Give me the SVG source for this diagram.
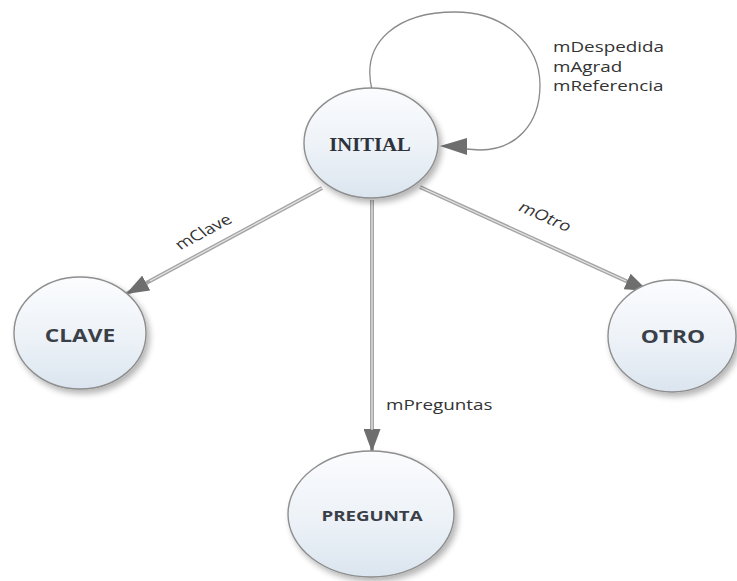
<svg xmlns="http://www.w3.org/2000/svg" width="737" height="581" viewBox="0 0 737 581">
<defs>
<linearGradient id="g" x1="0" y1="0" x2="0" y2="1">
<stop offset="0" stop-color="#fbfcfe"/>
<stop offset="0.5" stop-color="#eef3f8"/>
<stop offset="1" stop-color="#dbe5ef"/>
</linearGradient>
<filter id="sh" x="-20%" y="-20%" width="150%" height="150%">
<feGaussianBlur in="SourceAlpha" stdDeviation="3"/>
<feOffset dx="3" dy="4"/>
<feComponentTransfer><feFuncA type="linear" slope="0.3"/></feComponentTransfer>
<feMerge><feMergeNode/><feMergeNode in="SourceGraphic"/></feMerge>
</filter>
<marker id="ahb" markerWidth="23" markerHeight="17" refX="23" refY="8.5" orient="auto" markerUnits="userSpaceOnUse" viewBox="0 0 23 17">
<path d="M0,0 L23,8.5 L0,17 z" fill="#6e6e6e"/>
</marker>
</defs>
<style>
.node{fill:url(#g);stroke:#8e8e8e;stroke-width:1.4;filter:url(#sh)}
.nt{font-family:"Open Sans","Noto Sans",sans-serif;font-weight:bold;fill:#3a3f48;text-anchor:middle;font-size:17.5px}
.ns{font-family:"Liberation Serif","DejaVu Serif",serif;font-weight:bold;fill:#2e333b;text-anchor:middle;font-size:18px}
.lbl{font-family:"Open Sans","Noto Sans",sans-serif;fill:#333;font-size:14.5px}
.edge{fill:none;stroke:#a5a5a5;stroke-width:4}
.edgei{fill:none;stroke:#e6e6e6;stroke-width:1.2}
.loop{fill:none;stroke:#8a8a8a;stroke-width:1.3}
</style>
<g id="connectors">
<path class="loop" d="M372,90 C360,40 400,12 455,12 C505,12 540,45 540,85 C540,125 515,150 480,150 L466,149"/>
<path d="M440,146 L467,138 L467,155 z" fill="#6e6e6e"/>
<line class="edge" x1="322" y1="188" x2="126" y2="294" marker-end="url(#ahb)"/>
<line class="edgei" x1="322" y1="188" x2="150" y2="281"/>
<line class="edge" x1="372" y1="200" x2="372" y2="452" marker-end="url(#ahb)"/>
<line class="edgei" x1="372" y1="200" x2="372" y2="430"/>
<line class="edge" x1="420" y1="187" x2="648" y2="291" marker-end="url(#ahb)"/>
<line class="edgei" x1="420" y1="187" x2="626" y2="281"/>
<text class="lbl" transform="translate(553,52) scale(1.3,1)">mDespedida</text>
<text class="lbl" transform="translate(553,72) scale(1.3,1)">mAgrad</text>
<text class="lbl" transform="translate(553,91) scale(1.3,1)">mReferencia</text>
<text class="lbl" transform="translate(207,236) scale(1.3,1) rotate(-35)" text-anchor="middle">mClave</text>
<text class="lbl" transform="translate(542,221) scale(1.3,1) rotate(30)" text-anchor="middle">mOtro</text>
<text class="lbl" transform="translate(386,410) scale(1.3,1)">mPreguntas</text>
</g>
<g id="INITIAL">
<ellipse class="node" cx="371" cy="143" rx="67" ry="55"/>
<text class="ns" transform="translate(370,151) scale(1.15,1)">INITIAL</text>
</g>
<g id="CLAVE">
<ellipse class="node" cx="80" cy="333" rx="66" ry="56"/>
<text class="nt" transform="translate(80,342) scale(1.3,1)">CLAVE</text>
</g>
<g id="OTRO">
<ellipse class="node" cx="672" cy="336" rx="64" ry="56"/>
<text class="nt" transform="translate(673,343) scale(1.3,1)">OTRO</text>
</g>
<g id="PREGUNTA">
<ellipse class="node" cx="371" cy="514" rx="83" ry="63"/>
<text class="nt" transform="translate(372,521) scale(1.3,1)" style="font-size:14.4px">PREGUNTA</text>
</g>
</svg>
